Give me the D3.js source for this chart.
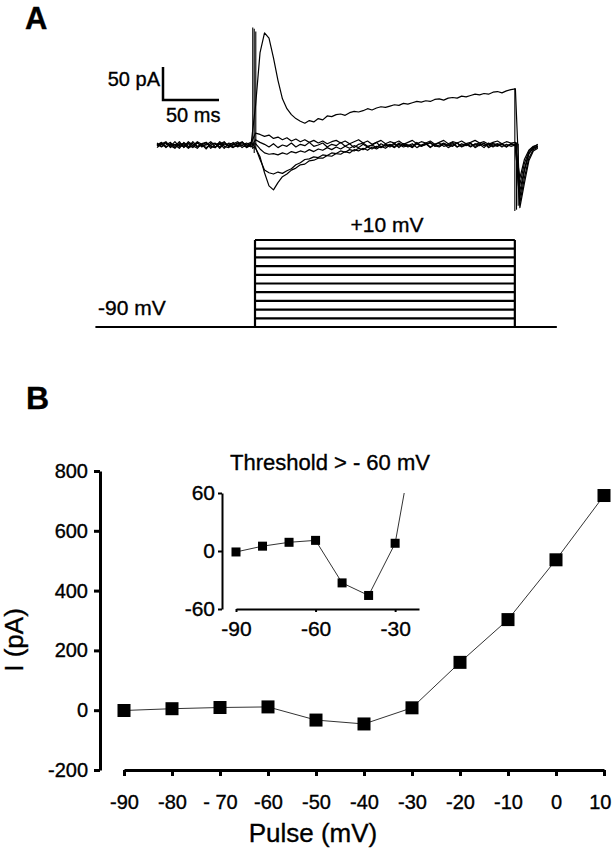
<!DOCTYPE html>
<html><head><meta charset="utf-8">
<script src="https://cdn.jsdelivr.net/npm/d3@7"></script>
<style>
body{margin:0;background:#fff}
svg text{font-family:"Liberation Sans",Arial,Helvetica,sans-serif;fill:#000;stroke:#000;stroke-width:0.35px}
</style>
</head><body>
<svg id="c" width="612" height="852"></svg>
<script>
// ---------------- DATA ----------------
// Panel A: current traces (pA), sampled every 4 ms from t = 0 ms
const sampleIntervalMs = 4;
const traceOut10 = [2,-3,4,-1,-5,3,0,-4,5,-2,1,-6,3,2,-3,4,-1,-4,2,5,-2,1,
  60,140,170,162,132,98,70,55,46,40,36,33,37,35,40,38,
  44,43,46,47,45,49,51,50,52,55,53,56,58,57,59,61,60,63,62,64,66,65,67,66,69,70,68,71,72,71,74,73,75,77,76,78,77,80,81,79,82,84,85,
  -80,-40,-14,-4,-2];
const traceIn40 = [-1,3,-4,2,0,-5,4,-2,-3,5,1,-4,0,3,-5,2,-1,4,-3,0,3,-2,
  -5,-18,-42,-62,-68,-57,-48,-44,-38,-35,-30,-29,-24,-23,-20,-20,-16,-17,-13,-14,-10,-12,-7,-9,-5,-8,-3,-6,-2,-5,0,-4,1,-3,-1,2,-4,0,3,-3,1,-2,2,-4,0,3,-2,1,-3,2,-1,3,-4,0,2,-3,1,-2,0,
  -95,-58,-24,-9,-5];
const traceIn50 = [3,-2,0,4,-4,1,-3,5,-1,-5,2,4,-2,-4,1,5,-3,0,3,-4,1,4,
  -4,-22,-38,-42,-44,-41,-43,-39,-36,-30,-27,-22,-21,-18,-19,-15,-16,-12,-13,-9,-11,-7,-9,-5,-7,-3,-6,-2,-4,0,-3,1,-2,2,-3,0,2,-2,1,3,-2,0,3,-1,2,-3,0,2,-2,1,3,-1,2,-3,1,2,-2,1,0,
  -88,-50,-20,-7,-3];
const traceIn30 = [-4,1,3,-2,5,-3,0,2,-4,3,-1,0,5,-3,2,-5,3,1,-2,4,-4,0,
  2,-6,-12,-14,-13,-15,-12,-14,-10,-12,-9,-11,-7,-10,-6,-8,-4,-7,-3,-6,-2,-5,-1,-4,1,-3,0,-4,2,-2,1,-3,3,-1,0,-4,2,-2,1,4,-1,-3,2,0,-2,3,-3,0,2,-2,1,-4,3,0,-2,1,-3,2,0,
  -70,-36,-12,-5,-2];
const traceOutSmall = [0,4,-3,1,-2,5,-4,3,2,-3,0,4,-5,1,3,-2,-4,2,5,-1,-3,3,
  18,16,13,15,10,12,8,11,6,9,5,8,4,7,3,6,2,5,7,3,6,2,5,8,3,6,1,4,7,2,5,3,6,1,4,7,2,5,3,6,1,4,7,2,5,3,6,2,4,7,3,5,1,4,6,2,5,3,4,
  -60,-28,-10,-3,1];
const traceZero = [-2,2,5,-4,1,-1,3,-5,0,4,-3,2,-1,-4,5,0,2,-3,-1,4,0,-3,
  8,4,1,-3,2,-4,0,-2,3,-3,1,-1,4,-2,0,3,-3,1,-1,4,-2,2,-4,1,3,-2,0,4,-3,1,-1,3,-4,2,0,-3,4,-1,2,-4,1,3,-2,0,4,-3,2,-1,3,-4,0,2,-2,3,-1,1,-3,2,0,
  -50,-22,-8,-2,0];
const traces = [traceZero, traceOutSmall, traceIn30, traceIn50, traceIn40, traceOut10];
// capacitive artifacts (time ms, high pA, low pA)
const artifactTimes = [85.5, 86.8, 88.2, 319.5, 321, 322.5];
const artifactHigh  = [178, 176, 172, 86, 4, 2];
const artifactLow   = [-6, -12, -4, -100, -98, -92];
// scale bar
const scaleBarPA = 50, scaleBarMS = 50;
// voltage protocol
const protocolTimes = [-55, 87.5, 319.5, 357]; // start, step on, step off, end (ms)
const holdingMV = -90;
const stepLevels = [-90,-80,-70,-60,-50,-40,-30,-20,-10,0,10];

// Panel B: I-V relation
const pulses = [-90,-80,-70,-60,-50,-40,-30,-20,-10,0,10];
const currents = [-1,5,9,11,-33,-46,8,160,303,503,718];
const xTickLabels = ["-90","-80","- 70","-60","-50","-40","-30","-20","-10","0","10"];
const yTicks = [-200,0,200,400,600,800];
const insetXTicks = [-90,-60,-30];
const insetYTicks = [-60,0,60];

// ---------------- DRAW ----------------
const svg = d3.select("#c");
const plain = d => String(d);

// Panel letters
svg.append("text").attr("x",25).attr("y",29).attr("font-size",31).attr("font-weight","bold").text("A");
svg.append("text").attr("x",26).attr("y",409).attr("font-size",32).attr("font-weight","bold").text("B");

// ---- Panel A traces
const tX = d3.scaleLinear().domain([0, 340]).range([157, 157 + 340*1.12]);
const iY = d3.scaleLinear().domain([-100, 200]).range([211, 13]);
const line = d3.line().x((d,i)=>tX(i*sampleIntervalMs)).y(d=>iY(d));
const gA = svg.append("g");
traces.forEach(tr=>{
  gA.append("path").attr("d", line(tr)).attr("fill","none")
    .attr("stroke","#000").attr("stroke-width",1.2).attr("stroke-linejoin","round");
});
artifactTimes.forEach((t,k)=>{
  gA.append("line").attr("x1",tX(t)).attr("x2",tX(t))
    .attr("y1",iY(artifactHigh[k])).attr("y2",iY(artifactLow[k]))
    .attr("stroke","#000").attr("stroke-width",1.1);
});
// scale bar
const sbX = 163, sbY = 100;
gA.append("path")
  .attr("d", `M${sbX},${sbY - (iY(0)-iY(scaleBarPA))}V${sbY}H${sbX + (tX(scaleBarMS)-tX(0))}`)
  .attr("fill","none").attr("stroke","#000").attr("stroke-width",2.5);
svg.append("text").attr("x",160).attr("y",86).attr("text-anchor","end").attr("font-size",20).text("50 pA");
svg.append("text").attr("x",166).attr("y",122).attr("font-size",20).text("50 ms");

// ---- voltage protocol
const vY = d3.scaleLinear().domain([-90, 10]).range([327, 240]);
const gP = svg.append("g").attr("stroke","#000").attr("stroke-width",2.2).attr("fill","none");
gP.append("line").attr("x1",tX(protocolTimes[0])).attr("x2",tX(protocolTimes[3]))
  .attr("y1",vY(holdingMV)).attr("y2",vY(holdingMV));
stepLevels.forEach(v=>{
  gP.append("line").attr("x1",tX(protocolTimes[1])).attr("x2",tX(protocolTimes[2]))
    .attr("y1",vY(v)).attr("y2",vY(v));
});
[protocolTimes[1], protocolTimes[2]].forEach(t=>{
  gP.append("line").attr("x1",tX(t)).attr("x2",tX(t))
    .attr("y1",vY(holdingMV)).attr("y2",vY(d3.max(stepLevels)));
});
svg.append("text").attr("x",387).attr("y",232).attr("text-anchor","middle").attr("font-size",21).text("+10 mV");
svg.append("text").attr("x",98).attr("y",315).attr("font-size",21).text("-90 mV");

// ---- Panel B main
const x = d3.scaleLinear().domain([-90, 10]).range([124, 604]);
const y = d3.scaleLinear().domain([-200, 800]).range([770, 471]);
const gB = svg.append("g");
const yAx = gB.append("g").attr("transform","translate(100,0)")
  .call(d3.axisLeft(y).tickValues(yTicks).tickSize(6).tickSizeOuter(0).tickPadding(6).tickFormat(plain));
const xAx = gB.append("g").attr("transform","translate(0,770)")
  .call(d3.axisBottom(x).tickValues(pulses).tickSize(6).tickSizeOuter(0).tickPadding(19).tickFormat((d,i)=>xTickLabels[i]));
[yAx, xAx].forEach(a=>{
  a.select(".domain").attr("stroke","#000").attr("stroke-width",3);
  a.selectAll(".tick line").attr("stroke","#000").attr("stroke-width",3);
  a.selectAll(".tick text").attr("font-size",20).attr("font-family","Liberation Sans, Arial, sans-serif").attr("fill","#000");
});
// keep last x label inside the canvas (flush with the right edge, as in the reference)
xAx.selectAll(".tick text").filter((d,i)=>i===pulses.length-1).attr("text-anchor","end").attr("x",7);
gB.append("path").datum(pulses.map((p,i)=>[p,currents[i]]))
  .attr("d", d3.line().x(d=>x(d[0])).y(d=>y(d[1])))
  .attr("fill","none").attr("stroke","#333").attr("stroke-width",1);
const sq = 13;
gB.selectAll("rect.m").data(pulses).enter().append("rect")
  .attr("x",(d)=>x(d)-sq/2).attr("y",(d,i)=>y(currents[i])-sq/2)
  .attr("width",sq).attr("height",sq).attr("fill","#000");
svg.append("text").attr("x",313).attr("y",842).attr("text-anchor","middle").attr("font-size",26).text("Pulse (mV)");
svg.append("text").attr("transform","translate(23,640) rotate(-90)").attr("text-anchor","middle").attr("font-size",26).text("I (pA)");

// ---- Inset
const xi = d3.scaleLinear().domain([-90, -21]).range([236, 419]);
const yi = d3.scaleLinear().domain([-60, 60]).range([609, 493]);
const gI = svg.append("g");
const yiAx = gI.append("g").attr("transform","translate(222,0)")
  .call(d3.axisLeft(yi).tickValues(insetYTicks).tickSize(4).tickSizeOuter(0).tickPadding(3).tickFormat(plain));
const xiAx = gI.append("g").attr("transform","translate(0,609)")
  .call(d3.axisBottom(xi).tickValues(insetXTicks).tickSize(3).tickSizeOuter(0).tickPadding(9).tickFormat(plain));
[yiAx, xiAx].forEach(a=>{
  a.select(".domain").attr("stroke","#000").attr("stroke-width",2);
  a.selectAll(".tick line").attr("stroke","#000").attr("stroke-width",2);
  a.selectAll(".tick text").attr("font-size",21).attr("font-family","Liberation Sans, Arial, sans-serif").attr("fill","#000");
});
svg.append("clipPath").attr("id","ic").append("rect")
  .attr("x",xi(-90)-10).attr("y",yi(60)).attr("width",xi(-21)-xi(-90)+10).attr("height",yi(-60)-yi(60)+10);
const insetIdx = pulses.map((p,i)=>i).filter(i=>pulses[i] <= -20);
gI.append("path").datum(insetIdx.map(i=>[pulses[i],currents[i]]))
  .attr("clip-path","url(#ic)")
  .attr("d", d3.line().x(d=>xi(d[0])).y(d=>yi(d[1])))
  .attr("fill","none").attr("stroke","#333").attr("stroke-width",1);
const sqi = 9;
gI.selectAll("rect.i").data(insetIdx.filter(i=>currents[i] <= 60)).enter().append("rect")
  .attr("x",i=>xi(pulses[i])-sqi/2).attr("y",i=>yi(currents[i])-sqi/2)
  .attr("width",sqi).attr("height",sqi).attr("fill","#000");
svg.append("text").attr("x",330).attr("y",470).attr("text-anchor","middle").attr("font-size",22).text("Threshold > - 60 mV");
</script>
</body></html>
